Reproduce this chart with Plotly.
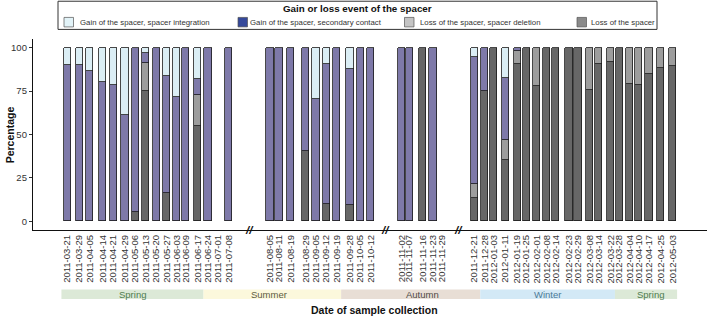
import pandas as pd
import plotly.graph_objects as go

# ---------------- data ----------------
dates = [
    "2011-03-21", "2011-03-29", "2011-04-05", "2011-04-14", "2011-04-21", "2011-04-29",
    "2011-05-06", "2011-05-13", "2011-05-20", "2011-05-27", "2011-06-03", "2011-06-09",
    "2011-06-17", "2011-06-24", "2011-07-01", "2011-07-08",
    "2011-08-05", "2011-08-11", "2011-08-19", "2011-08-29", "2011-09-05", "2011-09-12",
    "2011-09-19", "2011-09-28", "2011-10-05", "2011-10-12",
    "2011-11-02", "2011-11-07", "2011-11-16", "2011-11-23", "2011-11-29",
    "2011-12-21", "2011-12-28", "2012-01-03", "2012-01-11", "2012-01-19", "2012-01-25",
    "2012-02-01", "2012-02-08", "2012-02-14", "2012-02-23", "2012-02-29", "2012-03-08",
    "2012-03-14", "2012-03-22", "2012-03-28", "2012-04-04", "2012-04-10", "2012-04-17",
    "2012-04-25", "2012-05-03",
]

# Loss of the spacer (bottom of stack)
loss_spacer = [
    0, 0, 0, 0, 0, 0, 5.6, 75.2, 0, 16.5, 0, 0, 54.8, 0, None, 0,
    0, 0, 0, 40.4, 0, 10.2, 0, 9.6, 0, 0,
    0, 0, 100, 0, None,
    13.7, 75.0, 100, 35.6, 90.4, 100, 77.8, 100, 100, 100, 100, 75.6,
    90.6, 91.7, 100, 78.8, 78.3, 84.6, 88.3, 89.2,
]
# Loss of the spacer, spacer deletion
loss_deletion = [
    0, 0, 0, 0, 0, 0, 0, 15.8, 0, 0, 0, 0, 17.9, 0, None, 0,
    0, 0, 0, 0, 0, 0, 0, 0, 0, 0,
    0, 0, 0, 0, None,
    8.0, 0, 0, 11.1, 7.9, 0, 22.2, 0, 0, 0, 0, 24.4,
    9.4, 8.3, 0, 21.2, 21.7, 15.4, 11.7, 10.8,
]
# Gain of the spacer, secondary contact
gain_secondary = [
    90, 90, 86.5, 80, 78.5, 61, 94.4, 5.7, 100, 67.0, 71.7, 100, 9.3, 100, None, 100,
    100, 100, 100, 59.6, 70.4, 80.2, 100, 78.4, 100, 100,
    100, 100, 0, 100, None,
    73.1, 25.0, 0, 35.6, 1.7, 0, 0, 0, 0, 0, 0, 0,
    0, 0, 0, 0, 0, 0, 0, 0,
]
# Gain of the spacer, spacer integration (top of stack)
gain_integration = [
    10, 10, 13.5, 20, 21.5, 39, 0, 3.3, 0, 16.5, 28.3, 0, 18.0, 0, None, 0,
    0, 0, 0, 0, 29.6, 9.6, 0, 12.0, 0, 0,
    0, 0, 0, 0, None,
    5.2, 0, 0, 17.7, 0, 0, 0, 0, 0, 0, 0, 0,
    0, 0, 0, 0, 0, 0, 0, 0,
]

y_ticks = [0, 25, 50, 75, 100]

season_names = ["Spring", "Summer", "Autumn", "Winter", "Spring"]
season_starts = ["2011-03-17", "2011-06-21", "2011-09-22", "2011-12-25", "2012-03-25"]
season_ends = ["2011-06-21", "2011-09-22", "2011-12-25", "2012-03-25", "2012-05-06"]

break_dates = ["2011-07-22", "2011-10-22", "2011-12-10"]

legend_title = "Gain or loss event of the spacer"
legend_names = [
    "Gain of the spacer, spacer integration",
    "Gain of the spacer, secondary contact",
    "Loss of the spacer, spacer deletion",
    "Loss of the spacer",
]

# ---------------- styling ----------------
bar_colors = {
    "loss": "#676767",
    "del": "#9d9d9d",
    "sec": "#7e79a9",
    "int": "#dbeef5",
}
legend_colors = ["#e2f3f8", "#34489a", "#c4c4c4", "#8a8a8a"]
season_fill = ["#dce9d7", "#fcf8dc", "#e8ded5", "#d3e9f6", "#dce9d7"]
season_text = ["#4f7d4f", "#5e5b3e", "#4f4a45", "#4c7b98", "#4f7d4f"]
season_label_shift_days = [0, -2, 8, 0, 3]

FONT = "Liberation Sans, Arial, Helvetica, sans-serif"
BAR_W_MS = 4.9 * 86400000

# plot geometry (pixels)
W, H = 707, 317
L, R, T, B = 33, 0, 38.6, 87.3
pw = W - L - R
ph = H - T - B


def py(pix):
    """pixel y -> paper y"""
    return (H - B - pix) / ph


def px(pix):
    """pixel x -> paper x"""
    return (pix - L) / pw


def clean(vals):
    return [None if (v is None or v == 0) else v for v in vals]


fig = go.Figure()
stack = [
    ("Loss of the spacer", loss_spacer, bar_colors["loss"]),
    ("Loss of the spacer, spacer deletion", loss_deletion, bar_colors["del"]),
    ("Gain of the spacer, secondary contact", gain_secondary, bar_colors["sec"]),
    ("Gain of the spacer, spacer integration", gain_integration, bar_colors["int"]),
]
for name, vals, col in stack:
    fig.add_trace(go.Bar(
        x=dates, y=clean(vals), name=name, width=BAR_W_MS,
        marker=dict(color=col, line=dict(color="#1a1a1a", width=0.8)),
        showlegend=False, hoverinfo="x+y+name",
    ))

origin = pd.Timestamp("2011-03-21")
x0 = origin - pd.Timedelta(days=23.2)
x1 = origin + pd.Timedelta(days=432.2)

shapes = []
annotations = []

# season bands below the axis
for nm, s, e, fc, tc, sh in zip(season_names, season_starts, season_ends,
                                season_fill, season_text, season_label_shift_days):
    shapes.append(dict(type="rect", xref="x", yref="paper", x0=s, x1=e,
                       y0=py(298.8), y1=py(289.2), fillcolor=fc, line=dict(width=0), layer="below"))
    mid = pd.Timestamp(s) + (pd.Timestamp(e) - pd.Timestamp(s)) / 2 + pd.Timedelta(days=sh)
    annotations.append(dict(x=mid, y=py(294), xref="x", yref="paper", text=nm,
                            showarrow=False, font=dict(family=FONT, size=9.5, color=tc),
                            xanchor="center", yanchor="middle"))

# axis break marks
for bd in break_dates:
    annotations.append(dict(x=bd, y=0, xref="x", yref="paper", text="<b><i>//</i></b>",
                            showarrow=False, font=dict(family=FONT, size=11.5, color="#111111"),
                            xanchor="center", yanchor="middle"))

# axis titles
annotations.append(dict(x=px(374.5), y=py(310), xref="paper", yref="paper",
                        text="<b>Date of sample collection</b>", showarrow=False,
                        font=dict(family=FONT, size=10.5, color="#111111"),
                        xanchor="center", yanchor="middle"))
annotations.append(dict(x=px(10), y=py(135), xref="paper", yref="paper",
                        text="<b>Percentage</b>", showarrow=False, textangle=-90,
                        font=dict(family=FONT, size=10.5, color="#111111"),
                        xanchor="center", yanchor="middle"))

# legend box (drawn)
shapes.append(dict(type="rect", xref="paper", yref="paper",
                   x0=px(58), x1=px(657), y0=py(29), y1=py(0.8),
                   line=dict(color="#333333", width=1), fillcolor="white"))
annotations.append(dict(x=px(357.5), y=py(8.5), xref="paper", yref="paper",
                        text="<b>" + legend_title + "</b>", showarrow=False,
                        font=dict(family=FONT, size=9.8, color="#111111"),
                        xanchor="center", yanchor="middle"))
sw_left = [64, 238, 404.5, 577]
txt_left = [78, 248, 418, 589]
for name, col, sl, tl in zip(legend_names, legend_colors, sw_left, txt_left):
    shapes.append(dict(type="rect", xref="paper", yref="paper",
                       x0=px(sl), x1=px(sl + 9.5), y0=py(26.5), y1=py(17),
                       line=dict(color="#555555", width=0.7), fillcolor=col))
    annotations.append(dict(x=px(tl), y=py(22), xref="paper", yref="paper",
                            text=name, showarrow=False,
                            font=dict(family=FONT, size=7.8, color="#333333"),
                            xanchor="left", yanchor="middle"))

fig.update_layout(
    width=W, height=H,
    margin=dict(l=L, r=R, t=T, b=B, pad=0),
    barmode="stack",
    bargap=0,
    plot_bgcolor="white", paper_bgcolor="white",
    font=dict(family=FONT, color="#222222"),
    showlegend=False,
    shapes=shapes,
    annotations=annotations,
    xaxis=dict(
        type="date",
        range=[x0, x1],
        tickvals=dates, ticktext=dates,
        tickangle=-90,
        tickfont=dict(family=FONT, size=9.5, color="#333333"),
        showline=True, linecolor="#111111", linewidth=1.3,
        ticks="", showgrid=False, zeroline=False,
        automargin=False,
    ),
    yaxis=dict(
        range=[-5, 105],
        tickvals=y_ticks,
        ticks="outside", ticklen=3, tickcolor="#333333", tickwidth=1,
        tickfont=dict(family=FONT, size=9.5, color="#333333"),
        showline=True, linecolor="#111111", linewidth=1.3,
        showgrid=False, zeroline=False,
        automargin=False,
    ),
)

fig.write_html("out.html", config={"displayModeBar": False},
               post_script="document.body.style.margin='0';")
